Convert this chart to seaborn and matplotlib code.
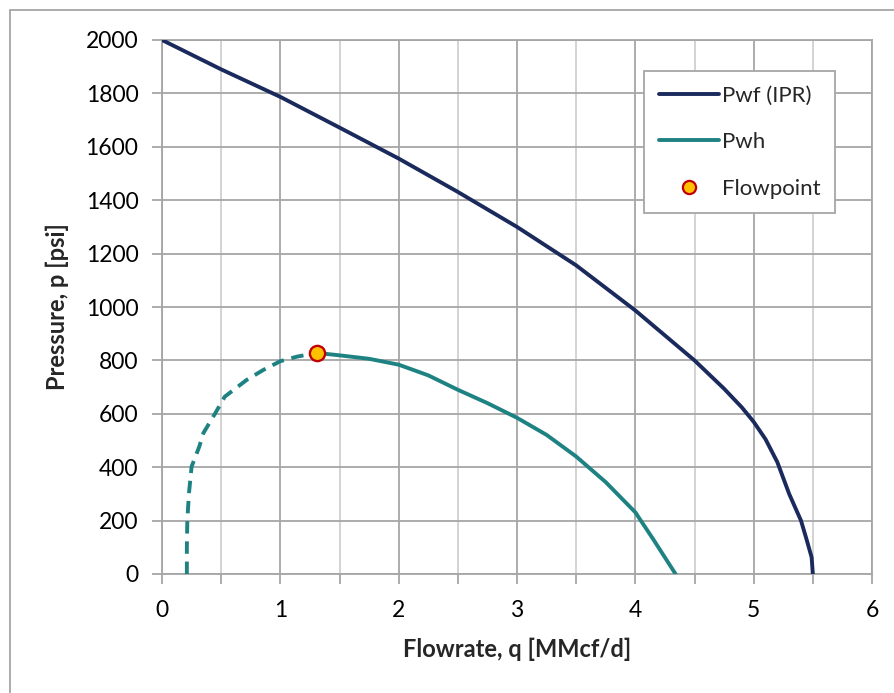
import matplotlib
matplotlib.use("Agg")
import matplotlib.pyplot as plt
import seaborn as sns
import pandas as pd
from matplotlib.lines import Line2D
from matplotlib.ticker import MultipleLocator

# ---- data ----
ipr_q = [0.0, 0.5, 1.0, 1.5, 2.0, 2.5, 3.0, 3.5, 4.0, 4.5, 4.75, 4.9, 5.0, 5.1, 5.2, 5.3, 5.4, 5.45, 5.49, 5.5]
ipr_p = [2000, 1890, 1787, 1672, 1556, 1431, 1300, 1156, 987, 800, 694, 624, 570, 505, 419, 300, 200, 125, 62, 0]

pwh_q = [1.308, 1.5, 1.75, 2.0, 2.25, 2.5, 2.75, 3.0, 3.25, 3.5, 3.75, 4.0, 4.15, 4.25, 4.34]
pwh_p = [828, 819, 806, 784, 744, 690, 640, 585, 521, 440, 344, 231, 131, 62, 0]

unstable_q = [0.21, 0.21, 0.214, 0.228, 0.25, 0.315, 0.35, 0.45, 0.53, 0.716, 0.855, 1.0, 1.14, 1.308]
unstable_p = [0, 100, 202, 303, 402, 477, 528, 602, 664, 727, 764, 797, 814, 828]

flow_q = [1.308]
flow_p = [828]

x_ticks = [0, 1, 2, 3, 4, 5, 6]
y_ticks = [0, 200, 400, 600, 800, 1000, 1200, 1400, 1600, 1800, 2000]

ipr_color = "#1B2A5C"
pwh_color = "#1E8282"

sns.set_theme(style="white")
plt.rcParams["font.family"] = ["Lato", "DejaVu Sans"]

fig = plt.figure(figsize=(8.95, 6.93), dpi=100)
ax = fig.add_axes([162 / 895, 1 - 574 / 693, (872 - 162) / 895, (574 - 40) / 693])

ipr_df = pd.DataFrame({"q": ipr_q, "p": ipr_p})
pwh_df = pd.DataFrame({"q": pwh_q, "p": pwh_p})
uns_df = pd.DataFrame({"q": unstable_q, "p": unstable_p})
fp_df = pd.DataFrame({"q": flow_q, "p": flow_p})

sns.lineplot(data=ipr_df, x="q", y="p", sort=False, estimator=None, color=ipr_color,
             lw=2.8, ax=ax, zorder=3)
sns.lineplot(data=pwh_df, x="q", y="p", sort=False, estimator=None, color=pwh_color,
             lw=2.8, ax=ax, zorder=3)
sns.lineplot(data=uns_df, x="q", y="p", sort=False, estimator=None, color=pwh_color,
             lw=2.8, ax=ax, linestyle=(0, (3.2, 2.0)), zorder=3)
sns.scatterplot(data=fp_df, x="q", y="p", color="#FFC000", edgecolor="#C00000", s=120,
                linewidth=1.7, ax=ax, zorder=5)

ax.set_xlim(0, 6)
ax.set_ylim(0, 2000)
ax.set_xticks(x_ticks)
ax.set_yticks(y_ticks)
ax.xaxis.set_minor_locator(MultipleLocator(0.5))

ax.grid(which="major", axis="both", color="#A6A6A6", lw=1.3, zorder=0)
ax.grid(which="minor", axis="x", color="#D0D0D0", lw=1.3, zorder=0)
ax.set_axisbelow(True)
for s in ax.spines.values():
    s.set_color("#A6A6A6")
    s.set_linewidth(1.3)

ax.tick_params(axis="both", which="both", direction="out", length=7, width=1.3,
               color="#A6A6A6", labelsize=16.5, labelcolor="black")
ax.tick_params(axis="x", which="both", bottom=True, pad=12)
ax.tick_params(axis="y", which="both", left=True, pad=10)

ax.set_xlabel("Flowrate, q [MMcf/d]", fontsize=17, fontweight="bold", labelpad=12)
ax.set_ylabel("Pressure, p [psi]", fontsize=17, fontweight="bold", labelpad=12)

handles = [
    Line2D([], [], color=ipr_color, lw=2.8),
    Line2D([], [], color=pwh_color, lw=2.8),
    Line2D([], [], color="none", marker="o", markerfacecolor="#FFC000",
           markeredgecolor="#C00000", markersize=9.5, markeredgewidth=1.6),
]
leg = ax.legend(handles, ["Pwf (IPR)", "Pwh", "Flowpoint"], loc="upper right",
                bbox_to_anchor=((835 - 162) / 710, (574 - 71) / 534), fontsize=16,
                frameon=True, fancybox=False, edgecolor="#A6A6A6", framealpha=1,
                handlelength=2.7, handletextpad=0.15, labelspacing=1.2, borderpad=0.65,
                borderaxespad=0)
leg.get_frame().set_linewidth(1.3)

# outer chart-area border (only left and top visible in reference)
fig.add_artist(Line2D([10 / 895, 10 / 895], [0, 1 - 10 / 693], color="#A6A6A6", lw=1.3,
                      transform=fig.transFigure))
fig.add_artist(Line2D([10 / 895, 1], [1 - 10 / 693, 1 - 10 / 693], color="#A6A6A6", lw=1.3,
                      transform=fig.transFigure))

fig.savefig("out.png", dpi=100)
